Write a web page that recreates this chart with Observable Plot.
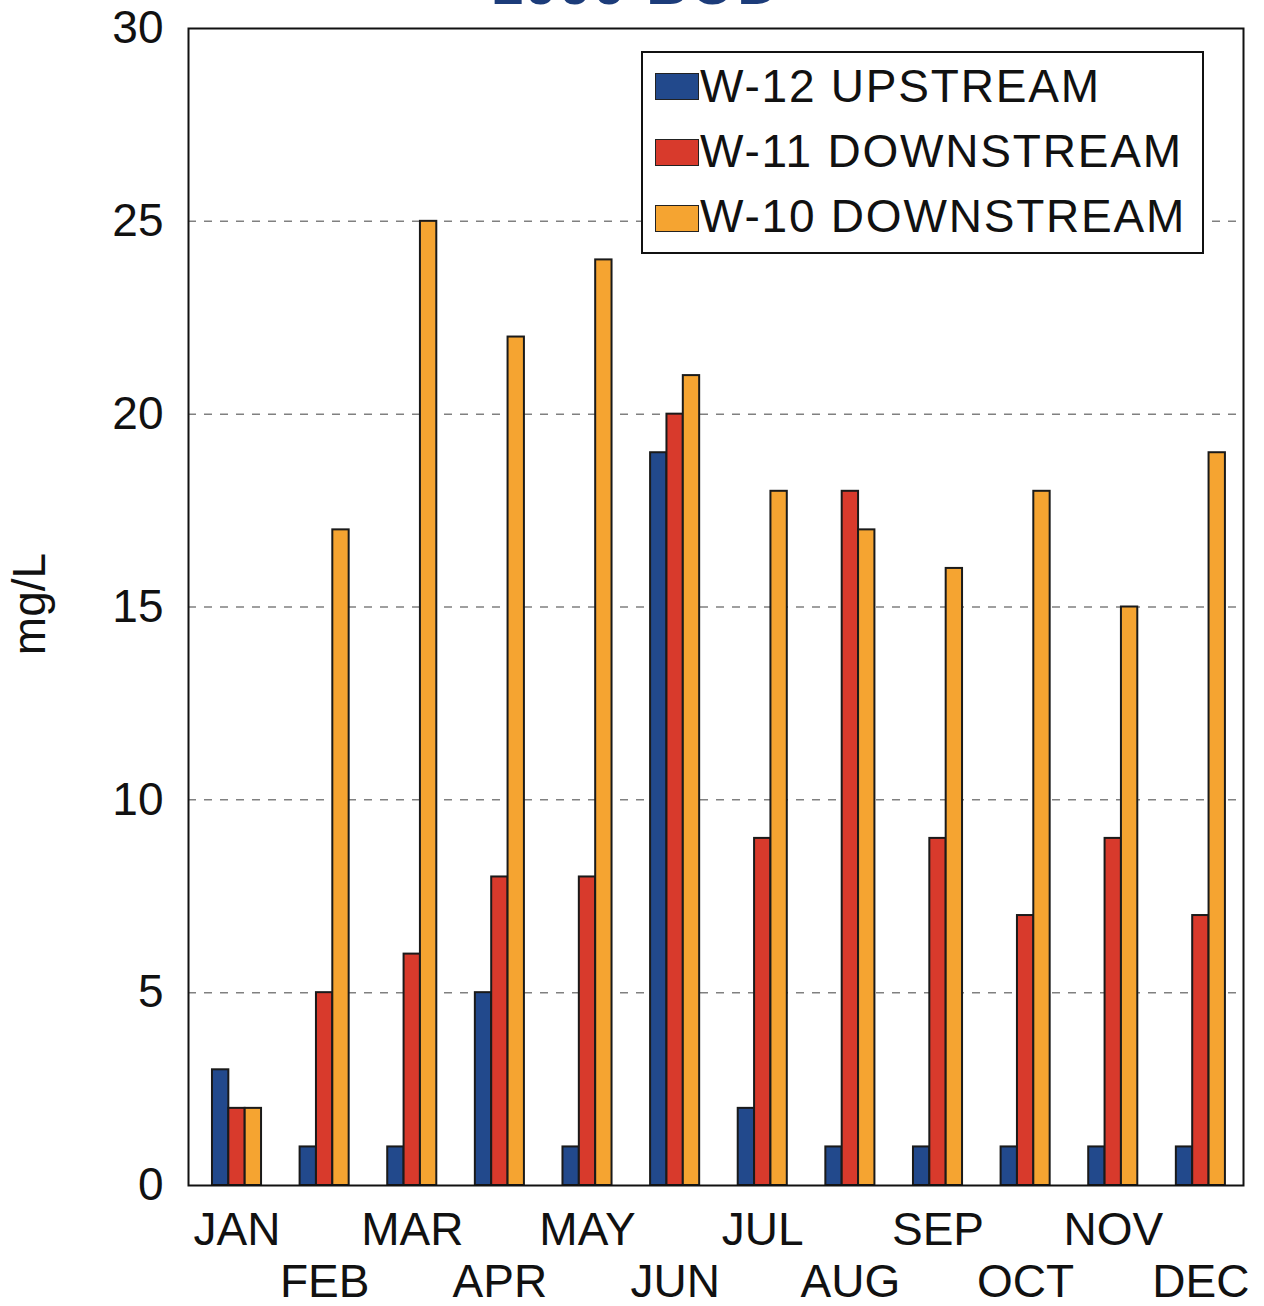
<!DOCTYPE html>
<html>
<head>
<meta charset="utf-8">
<script src="https://cdn.jsdelivr.net/npm/d3@7"></script>
<script src="https://cdn.jsdelivr.net/npm/@observablehq/plot@0.6"></script>
<style>
  body { margin: 0; background: #fff; }
  #wrap { position: relative; width: 1264px; height: 1306px; overflow: hidden; font-family: "Liberation Sans", Arial, sans-serif; color: #111; }
  #wrap svg { position: absolute; left: 0; top: 0; }
  .abs { position: absolute; white-space: nowrap; line-height: 1; }
  .title { font-size: 58px; font-weight: bold; color: #1c3c7a; letter-spacing: 2px; transform: translateX(-50%); }
  .ylabel { font-size: 46px; transform: translate(-50%, -50%) rotate(-90deg); }
  .legbox { border: 2px solid #111; background: #fff; box-sizing: border-box; }
  .sw { border: 1.5px solid #222; box-sizing: border-box; }
  .legtxt { font-size: 46px; letter-spacing: 1.8px; }
</style>
</head>
<body>
<div id="wrap"></div>
<script>
// ---- data ----
const months = ["JAN","FEB","MAR","APR","MAY","JUN","JUL","AUG","SEP","OCT","NOV","DEC"];
const seriesNames = ["W-12 UPSTREAM", "W-11 DOWNSTREAM", "W-10 DOWNSTREAM"];
const w12Upstream   = [3, 1, 1, 5, 1, 19, 2, 1, 1, 1, 1, 1];
const w11Downstream = [2, 5, 6, 8, 8, 20, 9, 18, 9, 7, 9, 7];
const w10Downstream = [2, 17, 25, 22, 24, 21, 18, 17, 16, 18, 15, 19];
const seriesColors = ["#22498c", "#d83a2c", "#f5a431"];
const yTicks = [0, 5, 10, 15, 20, 25, 30];
const gridValues = [5, 10, 15, 20, 25];
const titleText = "1999 BOD";
const yLabel = "mg/L";

// ---- layout ----
const W = 1264, H = 1306;
const mL = 188, mR = 21, mT = 28, mB = 121;
const pInner = 0.44, pOuter = 0.24, alignX = 0.57;

const band = d3.scaleBand().domain(months).range([mL, W - mR])
  .paddingInner(pInner).paddingOuter(pOuter).align(alignX);
const bw = band.bandwidth();
const sub = bw / 3;

const seriesValues = [w12Upstream, w11Downstream, w10Downstream];
const tables = seriesValues.map((vals, s) => months.map((m, i) => ({month: m, value: vals[i], series: seriesNames[s]})));

const barMarks = tables.map((tbl, s) => Plot.barY(tbl, {
  x: "month", y: "value",
  fill: seriesColors[s],
  stroke: "#1a1a1a", strokeWidth: 2,
  insetLeft: s * sub, insetRight: (2 - s) * sub
}));

const oddRow = months.filter((_, i) => i % 2 === 0);
const evenRow = months.filter((_, i) => i % 2 === 1);

const chart = Plot.plot({
  width: W, height: H,
  marginLeft: mL, marginRight: mR, marginTop: mT, marginBottom: mB,
  style: { fontSize: "46px", fontFamily: "'Liberation Sans', Arial, sans-serif", color: "#111", background: "#fff", overflow: "visible" },
  x: { type: "band", domain: months, paddingInner: pInner, paddingOuter: pOuter, align: alignX, round: false },
  y: { domain: [0, 30] },
  marks: [
    Plot.ruleY(gridValues, { stroke: "#808080", strokeWidth: 1.5, strokeDasharray: "8,8" }),
    ...barMarks,
    Plot.frame({ stroke: "#111", strokeWidth: 2 }),
    Plot.axisY(yTicks, { tickSize: 0, tickPadding: 25, label: null, fontSize: 46 }),
    Plot.axisX(oddRow, { tickSize: 0, tickPadding: 27, label: null, fontSize: 46 }),
    Plot.axisX(evenRow, { tickSize: 0, tickPadding: 79, label: null, fontSize: 46 })
  ]
});

const wrap = document.getElementById("wrap");
wrap.appendChild(chart);

// title (cut off at top like the reference)
const t = document.createElement("div");
t.className = "abs title";
t.textContent = titleText;
t.style.left = "636px";
t.style.top = "-45px";
wrap.appendChild(t);

// y label
const yl = document.createElement("div");
yl.className = "abs ylabel";
yl.textContent = yLabel;
yl.style.left = "29px";
yl.style.top = "604px";
wrap.appendChild(yl);

// legend
const box = document.createElement("div");
box.className = "abs legbox";
Object.assign(box.style, { left: "641px", top: "51px", width: "563px", height: "203px" });
wrap.appendChild(box);
seriesNames.forEach((name, i) => {
  const sw = document.createElement("div");
  sw.className = "abs sw";
  Object.assign(sw.style, { left: "655px", top: (73 + 66 * i) + "px", width: "44px", height: "27px", background: seriesColors[i] });
  wrap.appendChild(sw);
  const tx = document.createElement("div");
  tx.className = "abs legtxt";
  tx.textContent = name;
  Object.assign(tx.style, { left: "700px", top: (63 + 65 * i) + "px" });
  wrap.appendChild(tx);
});
</script>
</body>
</html>
